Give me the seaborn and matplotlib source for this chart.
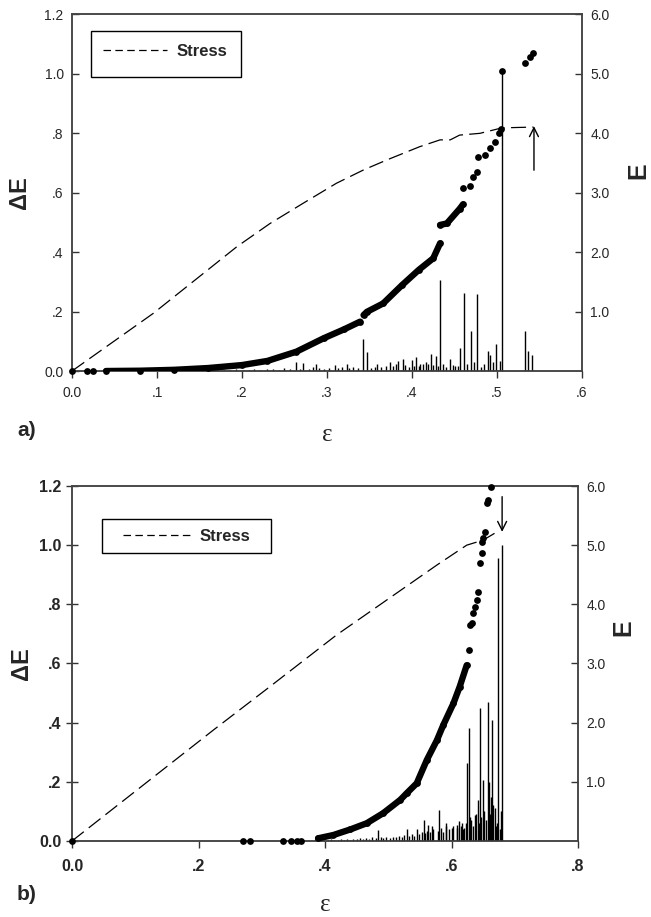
import numpy as np
import pandas as pd
import matplotlib
matplotlib.use("Agg")
import matplotlib.pyplot as plt
from matplotlib.patches import Rectangle
import seaborn as sns

sns.set_theme(style="white")
plt.rcParams['font.family'] = ['Liberation Sans', 'DejaVu Sans']

# ---------------- Panel a data ----------------
stress_a_x = [0.0, 0.0957, 0.1545, 0.194, 0.233, 0.272, 0.311, 0.343, 0.370, 0.409, 0.433, 0.445, 0.456, 0.480, 0.504, 0.515, 0.543]
stress_a_y = [0.0, 0.194, 0.328, 0.418, 0.496, 0.564, 0.631, 0.676, 0.709, 0.754, 0.777, 0.777, 0.793, 0.799, 0.816, 0.818, 0.820]

# cumulative energy E (right axis), continuous dense runs
ecurve_a_x = [0.04, 0.08, 0.12, 0.16, 0.20, 0.23, 0.264, 0.296, 0.32, 0.339,
              0.343, 0.347, 0.366, 0.388, 0.408, 0.425, 0.433,
              0.433, 0.441, 0.456, 0.460]
ecurve_a_y = [0.0, 0.005, 0.02, 0.05, 0.10, 0.17, 0.325, 0.55, 0.70, 0.83,
              0.94, 0.995, 1.135, 1.44, 1.70, 1.895, 2.145,
              2.455, 2.48, 2.725, 2.80]
ecurve_a_seg = [1]*10 + [2]*7 + [3]*4
# isolated E points
edots_a_x = [0.0, 0.018, 0.025, 0.460, 0.468, 0.472, 0.476, 0.478, 0.486, 0.492, 0.498, 0.502, 0.505,
             0.506, 0.533, 0.539, 0.542]
edots_a_y = [0.0, 0.0, 0.0, 3.075, 3.11, 3.26, 3.345, 3.595, 3.63, 3.745, 3.855, 3.995, 4.06,
             5.04, 5.175, 5.275, 5.345]

# energy increments dE (left axis)
spike_a_x = [0.506, 0.433, 0.461, 0.477, 0.470, 0.533, 0.342, 0.499, 0.457, 0.347, 0.489, 0.537,
             0.492, 0.541, 0.422, 0.428, 0.405, 0.389, 0.400, 0.384, 0.374, 0.445, 0.413, 0.264,
             0.287, 0.323,
             0.105, 0.118, 0.127, 0.139, 0.148, 0.156, 0.163, 0.171, 0.179, 0.186, 0.193, 0.201,
             0.208, 0.214, 0.221, 0.229, 0.236, 0.243, 0.249, 0.256, 0.268, 0.272, 0.279, 0.283,
             0.291, 0.296, 0.302, 0.309, 0.313, 0.318, 0.326, 0.331, 0.336, 0.352, 0.356, 0.359,
             0.363, 0.370, 0.378, 0.381, 0.392, 0.396, 0.402, 0.408, 0.410, 0.416, 0.419, 0.425,
             0.431, 0.437, 0.440, 0.448, 0.451, 0.454, 0.465, 0.473, 0.481, 0.485, 0.495, 0.503]
spike_a_h = [1.008, 0.306, 0.261, 0.259, 0.135, 0.135, 0.107, 0.091, 0.076, 0.065, 0.068, 0.068,
             0.054, 0.054, 0.057, 0.050, 0.048, 0.040, 0.037, 0.035, 0.031, 0.040, 0.025, 0.031,
             0.025, 0.025,
             0.002, 0.003, 0.002, 0.003, 0.002, 0.004, 0.003, 0.003, 0.005, 0.004, 0.006, 0.004,
             0.005, 0.007, 0.005, 0.006, 0.008, 0.005, 0.009, 0.006, 0.008, 0.026, 0.007, 0.012,
             0.010, 0.008, 0.011, 0.020, 0.009, 0.013, 0.010, 0.012, 0.009, 0.010, 0.014, 0.024,
             0.012, 0.016, 0.018, 0.022, 0.020, 0.015, 0.018, 0.016, 0.022, 0.030, 0.025, 0.020,
             0.018, 0.022, 0.014, 0.020, 0.016, 0.018, 0.025, 0.030, 0.015, 0.025, 0.030, 0.035]

# ---------------- Panel b data ----------------
stress_b_x = [0.0, 0.2235, 0.313, 0.418, 0.524, 0.577, 0.624, 0.650, 0.668]
stress_b_y = [0.0, 0.375, 0.522, 0.696, 0.854, 0.933, 1.0, 1.017, 1.04]

ecurve_b_x = [0.389, 0.413, 0.440, 0.466, 0.492, 0.519, 0.529, 0.545, 0.561, 0.577, 0.587, 0.603, 0.613, 0.624]
ecurve_b_y = [0.045, 0.10, 0.195, 0.30, 0.47, 0.695, 0.805, 0.975, 1.37, 1.705, 1.96, 2.325, 2.61, 2.97]
ecurve_b_seg = [1]*14
edots_b_x = [0.0, 0.271, 0.281, 0.334, 0.347, 0.355, 0.362,
             0.627, 0.629, 0.632, 0.634, 0.637, 0.640, 0.642, 0.645, 0.648, 0.648, 0.650, 0.653, 0.656, 0.658, 0.662]
edots_b_y = [0.0, 0.0, 0.0, 0.0, 0.0, 0.0, 0.0,
             3.23, 3.65, 3.68, 3.85, 3.96, 4.075, 4.215, 4.695, 4.86, 5.06, 5.115, 5.23, 5.705, 5.765, 5.99]

spike_b_x = [0.674, 0.680, 0.627, 0.625, 0.645, 0.657, 0.664, 0.650, 0.659, 0.642, 0.666, 0.668,
             0.679, 0.581, 0.557, 0.563, 0.569, 0.592, 0.612, 0.608, 0.617, 0.529, 0.545, 0.484,
             0.629, 0.637, 0.672, 0.620, 0.600,
             0.405, 0.410, 0.415, 0.420, 0.425, 0.430, 0.435, 0.440, 0.445, 0.450, 0.455, 0.460,
             0.465, 0.470, 0.475, 0.480, 0.488, 0.492, 0.497, 0.502, 0.507, 0.512, 0.517, 0.522,
             0.525, 0.533, 0.538, 0.541, 0.549, 0.553, 0.558, 0.561, 0.566, 0.571, 0.578, 0.584,
             0.587, 0.591, 0.596, 0.603, 0.609, 0.615, 0.618, 0.623, 0.631, 0.634, 0.638, 0.644,
             0.647, 0.652, 0.655, 0.661, 0.663, 0.670, 0.676]
spike_b_h = [0.955, 1.0, 0.381, 0.263, 0.449, 0.471, 0.409, 0.206, 0.200, 0.139, 0.120, 0.110,
             0.100, 0.105, 0.071, 0.055, 0.050, 0.060, 0.068, 0.045, 0.060, 0.040, 0.040, 0.037,
             0.082, 0.088, 0.060, 0.045, 0.045,
             0.004, 0.006, 0.003, 0.005, 0.007, 0.004, 0.006, 0.005, 0.008, 0.006, 0.009, 0.007,
             0.010, 0.008, 0.012, 0.009, 0.012, 0.010, 0.014, 0.011, 0.015, 0.012, 0.018, 0.014,
             0.020, 0.016, 0.025, 0.018, 0.022, 0.030, 0.028, 0.035, 0.030, 0.040, 0.035, 0.045,
             0.030, 0.050, 0.040, 0.050, 0.055, 0.050, 0.040, 0.060, 0.070, 0.050, 0.090, 0.060,
             0.080, 0.100, 0.070, 0.090, 0.150, 0.050, 0.040]

left_ticks = [0.0, 0.2, 0.4, 0.6, 0.8, 1.0, 1.2]
left_labels = ["0.0", ".2", ".4", ".6", ".8", "1.0", "1.2"]
right_ticks = [1.0, 2.0, 3.0, 4.0, 5.0, 6.0]
right_labels = ["1.0", "2.0", "3.0", "4.0", "5.0", "6.0"]
xa_ticks = [0.0, 0.1, 0.2, 0.3, 0.4, 0.5, 0.6]
xa_labels = ["0.0", ".1", ".2", ".3", ".4", ".5", ".6"]
xb_ticks = [0.0, 0.2, 0.4, 0.6, 0.8]
xb_labels = ["0.0", ".2", ".4", ".6", ".8"]

fig = plt.figure(figsize=(6.51, 9.17), dpi=100)

def panel(rect, sx, sy, cx, cy, cseg, dx, dy, spx, sph, xmax, xt, xl, bold,
          box, leg_anchor, hl, htp, arrow, xlbl_y, lbl_x, rlbl, ldir, xpad, lpad):
    ax = fig.add_axes(rect)
    axr = ax.twinx()
    ax.vlines(spx, 0, sph, color='black', lw=1.0, zorder=3)
    sns.lineplot(x=sx, y=sy, ax=ax, color='black', lw=0.9, sort=False, estimator=None,
                 linestyle=(0, (12, 5)), label='Stress', legend=False, zorder=2)
    dfc = pd.DataFrame({'x': cx, 'y': cy, 'seg': cseg})
    sns.lineplot(data=dfc, x='x', y='y', units='seg', estimator=None, sort=False, ax=axr,
                 color='black', lw=4.6, solid_capstyle='round', legend=False, zorder=4)
    sns.scatterplot(x=dx + cx, y=dy + cy, ax=axr, color='black', s=24, edgecolor='black',
                    linewidth=0, legend=False, zorder=5, clip_on=False)
    ax.set_xlim(0, xmax)
    ax.set_ylim(0, 1.2)
    axr.set_ylim(0, 6.0)
    fw = 'bold' if bold else 'normal'
    fs = 11.5 if bold else 10
    ax.set_xticks(xt)
    ax.set_xticklabels(xl, fontsize=fs, fontweight=fw)
    ax.set_yticks(left_ticks)
    ax.set_yticklabels(left_labels, fontsize=fs, fontweight=fw)
    axr.set_yticks(right_ticks)
    axr.set_yticklabels(right_labels, fontsize=10)
    for a in (ax, axr):
        for s in a.spines.values():
            s.set_color('#444444')
            s.set_linewidth(1.1)
    ax.tick_params(axis='x', bottom=True, direction='out', length=5, width=1, color='#333333', pad=xpad)
    ax.tick_params(axis='y', left=True, direction=ldir, length=5 if ldir == 'in' else 9,
                   width=1, color='#333333', pad=lpad)
    axr.tick_params(axis='y', right=True, direction='in', length=5, width=1, color='#333333', pad=6)
    ax.set_xlabel('ε', fontsize=18, family=['Liberation Serif', 'DejaVu Serif'])
    ax.xaxis.set_label_coords(0.5, xlbl_y)
    ax.set_ylabel('ΔE', fontsize=17, fontweight='bold')
    ax.yaxis.set_label_coords(lbl_x, 0.5)
    axr.set_ylabel('E', fontsize=18, fontweight='bold', rotation=90)
    axr.yaxis.set_label_coords(rlbl[0], rlbl[1])
    ax.annotate('', xy=arrow[1], xytext=arrow[0],
                arrowprops=dict(arrowstyle='->', lw=1.0, color='black', mutation_scale=16,
                                shrinkA=0, shrinkB=0), zorder=6)
    # legend frame
    axr.add_patch(Rectangle((box[0], box[1]), box[2] - box[0], box[3] - box[1],
                            transform=ax.transAxes, facecolor='white', edgecolor='black',
                            lw=1.0, zorder=7))
    handles, labels = ax.get_legend_handles_labels()
    leg = axr.legend(handles, labels, loc='center left', bbox_to_anchor=leg_anchor,
                     frameon=False, prop={'weight': 'bold', 'size': 12}, handlelength=hl,
                     borderpad=0, handletextpad=htp, borderaxespad=0)
    leg.set_zorder(8)
    for ln in leg.get_lines():
        ln.set_dashes((6, 3.5))
        ln.set_linewidth(0.9)
    return ax, axr

panel([0.1106, 0.5954, 0.7834, 0.3893], stress_a_x, stress_a_y, ecurve_a_x, ecurve_a_y, ecurve_a_seg,
      edots_a_x, edots_a_y, spike_a_x, spike_a_h, 0.6, xa_ticks, xa_labels, False,
      (0.0373, 0.8235, 0.3314, 0.9524), ((103 - 72) / 510, 0.896), 3.84, 0.6,
      ((0.5435, 0.675), (0.5435, 0.823)), -0.148, -0.08, (1.088, 0.56), 'in', 6, 6)

panel([0.1106, 0.0829, 0.7773, 0.3871], stress_b_x, stress_b_y, ecurve_b_x, ecurve_b_y, ecurve_b_seg,
      edots_b_x, edots_b_y, spike_b_x, spike_b_h, 0.8, xb_ticks, xb_labels, True,
      (0.0593, 0.8113, 0.3933, 0.9070), ((123 - 72) / 506, 0.858), 4.14, 0.48,
      ((0.680, 1.164), (0.680, 1.045)), -0.150, -0.078, (1.065, 0.60), 'inout', 8, 3)

fig.text(0.026, 1 - 431/917, 'a)', fontsize=15, fontweight='bold', ha='left', va='center')
fig.text(0.026, 1 - 895/917, 'b)', fontsize=15, fontweight='bold', ha='left', va='center')

fig.savefig('out.png', dpi=100)
